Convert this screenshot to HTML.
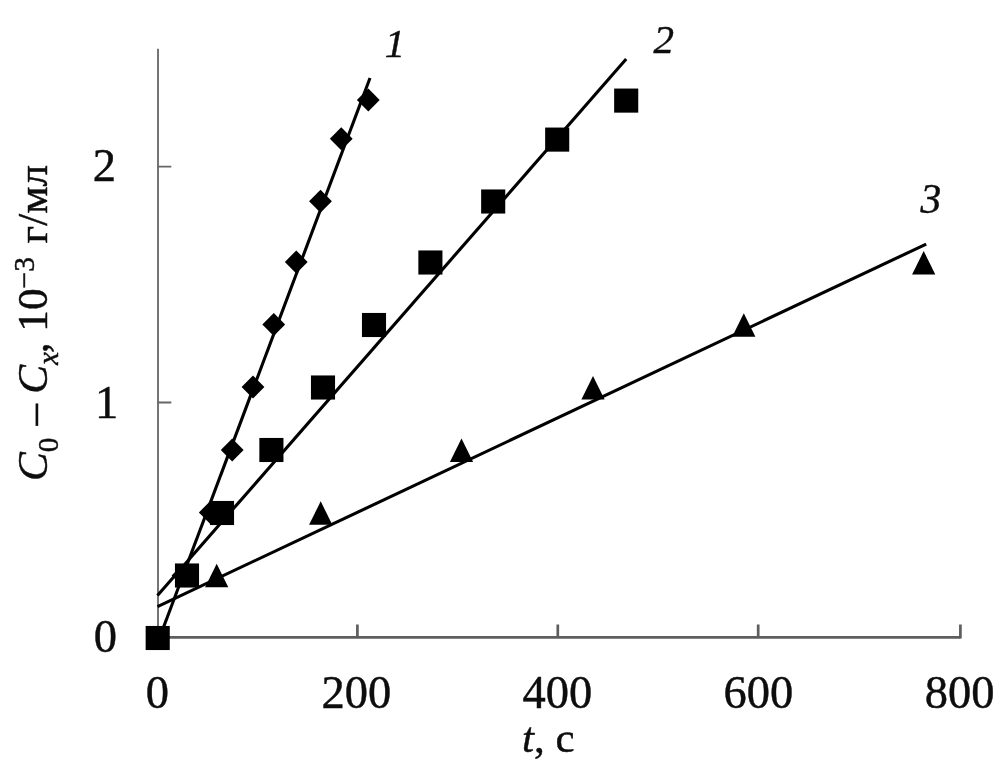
<!DOCTYPE html>
<html lang="ru">
<head>
<meta charset="utf-8">
<title>C0 − Cx</title>
<style>
html,body{margin:0;padding:0;background:#fff;}
body{width:1004px;height:779px;overflow:hidden;}
svg{display:block;}
text{font-family:"Liberation Serif","Times New Roman",serif;font-size:46.5px;fill:#0d0d0d;stroke:#0d0d0d;stroke-width:0.45px;}
.i{font-style:italic;}
</style>
</head>
<body>
<svg width="1004" height="779" viewBox="0 0 1004 779">
<rect width="1004" height="779" fill="#fff"/>
<g stroke="#5e5e5e" fill="none">
<path d="M158 48.8 V637.4" stroke-width="1.8" stroke="#666"/>
<path d="M157 637.3 H960.4" stroke-width="2.7"/>
<path d="M157.5 402.5 H171.3 M157.5 166.6 H171.3" stroke-width="1.8" stroke="#666"/>
<path d="M357.4 637.3 V624.6 M557.8 637.3 V624.6 M758.2 637.3 V624.6 M960.4 638.6 V624.6" stroke-width="2.7"/>
</g>
<g stroke="#000" stroke-width="3.1" stroke-linecap="butt" fill="none">
<path d="M163.6 627 L370 78"/>
<path d="M157.5 595.5 L626.2 59.1"/>
<path d="M157.5 606.6 L926.2 244.1"/>
</g>
<g fill="#000">
<rect x="145.65" y="625.95" width="24.1" height="24.1"/>
<rect x="174.95" y="563.45" width="24.1" height="24.1"/>
<rect x="209.95" y="500.95" width="24.1" height="24.1"/>
<rect x="259.35" y="437.95" width="24.1" height="24.1"/>
<rect x="310.95" y="375.45" width="24.1" height="24.1"/>
<rect x="361.95" y="312.95" width="24.1" height="24.1"/>
<rect x="418.35" y="250.45" width="24.1" height="24.1"/>
<rect x="481.15" y="189.45" width="24.1" height="24.1"/>
<rect x="545.15" y="127.55" width="24.1" height="24.1"/>
<rect x="614.15" y="88.55" width="24.1" height="24.1"/>
<polygon points="171.60,575.50 183.00,563.90 194.40,575.50 183.00,587.10"/>
<polygon points="198.90,512.50 210.30,500.90 221.70,512.50 210.30,524.10"/>
<polygon points="220.80,450.00 232.20,438.40 243.60,450.00 232.20,461.60"/>
<polygon points="241.60,387.00 253.00,375.40 264.40,387.00 253.00,398.60"/>
<polygon points="262.35,324.50 273.75,312.90 285.15,324.50 273.75,336.10"/>
<polygon points="284.85,262.00 296.25,250.40 307.65,262.00 296.25,273.60"/>
<polygon points="309.10,201.25 320.50,189.65 331.90,201.25 320.50,212.85"/>
<polygon points="329.85,138.75 341.25,127.15 352.65,138.75 341.25,150.35"/>
<polygon points="356.90,100.00 368.30,88.40 379.70,100.00 368.30,111.60"/>
<polygon points="205.10,587.20 216.70,563.80 228.30,587.20"/>
<polygon points="309.10,524.70 320.70,501.30 332.30,524.70"/>
<polygon points="449.90,462.00 461.50,438.60 473.10,462.00"/>
<polygon points="581.40,399.40 593.00,376.00 604.60,399.40"/>
<polygon points="732.20,336.70 743.80,313.30 755.40,336.70"/>
<polygon points="912.10,274.40 923.70,251.00 935.30,274.40"/>
</g>
<g text-anchor="middle">
<text x="157.3" y="708.3">0</text>
<text x="356.3" y="708.3">200</text>
<text x="557.3" y="708.3">400</text>
<text x="758.4" y="708.3">600</text>
<text x="959.6" y="708.3">800</text>
<text x="548.3" y="751.5" style="font-size:43px"><tspan class="i">t</tspan>, с</text>
</g>
<g text-anchor="end">
<text x="117.1" y="652">0</text>
<text x="118.2" y="417.8">1</text>
<text x="116.1" y="181.2">2</text>
</g>
<g class="i" font-style="italic">
<text x="384.8" y="57" style="font-size:40.5px">1</text>
<text x="653.4" y="53.2" style="font-size:41px">2</text>
<text x="920.6" y="213" style="font-size:41.5px">3</text>
</g>
<text transform="translate(47.4 481) rotate(-90)" style="font-size:43.2px"><tspan class="i">C</tspan><tspan style="font-size:29.5px" dy="11">0</tspan><tspan dy="-11" dx="1.2"> – </tspan><tspan class="i" dx="-0.8">C</tspan><tspan class="i" style="font-size:29.5px" dy="11">x</tspan><tspan dy="-11" dx="-1.3">, 10</tspan><tspan style="font-size:29.5px" dy="-13">−3</tspan><tspan dy="13" dx="2.8"> г/мл</tspan></text>
</svg>
</body>
</html>
